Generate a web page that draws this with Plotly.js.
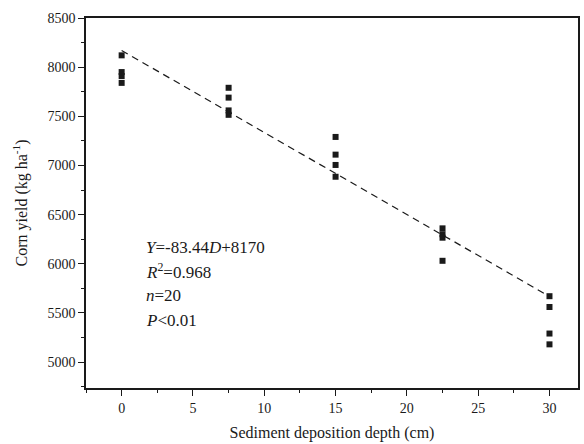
<!DOCTYPE html>
<html><head><meta charset="utf-8">
<script src="https://cdn.plot.ly/plotly-3.0.1.min.js"></script>
<style>html,body{margin:0;padding:0;background:#fff}#chart{width:584px;height:444px}</style>
</head><body><div id="chart"></div>
<script>
var depthX = [0,0,0,0, 7.5,7.5,7.5,7.5, 15,15,15,15, 22.5,22.5,22.5,22.5, 30,30,30,30];
var yieldY = [8120,7950,7910,7840, 7790,7690,7560,7515, 7290,7110,7005,6885, 6360,6300,6265,6030, 5670,5560,5290,5180];
var fitSlope = -83.44;
var fitIntercept = 8170;
var fitX = [0, 30];
var fitY = fitX.map(function(d){return fitSlope*d + fitIntercept;});
var statsLines = ["<i>Y</i>=-83.44<i>D</i>+8170", "<i>R</i><sup>2</sup>=0.968", "<i>n</i>=20", "<i>P</i>&lt;0.01"];

var font = "Liberation Serif, Times New Roman, serif";
var traces = [
  {x: depthX, y: yieldY, mode: 'markers', type: 'scatter',
   marker: {symbol: 'square', size: 6, color: '#1a1a1a'}, hoverinfo: 'none'},
  {x: fitX, y: fitY, mode: 'lines', type: 'scatter',
   line: {color: '#1a1a1a', width: 1.2, dash: '7px,5px'}, hoverinfo: 'none'}
];
var anns = statsLines.map(function(t, i){
  return {text: t, xref: 'paper', yref: 'paper', x: 0.118, y: 0.381 - i*0.066,
          xanchor: 'left', yanchor: 'middle', showarrow: false,
          font: {family: font, size: 17, color: '#1a1a1a'}};
});
var axisCommon = {
  showgrid: false, zeroline: false, showline: true, linecolor: '#1a1a1a', linewidth: 1.5,
  mirror: true, ticks: 'outside', ticklen: 6, tickwidth: 1.2, tickcolor: '#1a1a1a',
  tickfont: {family: font, size: 14, color: '#1a1a1a'}
};
var layout = {
  width: 584, height: 444,
  margin: {l: 86, r: 6, t: 18, b: 56},
  paper_bgcolor: '#fff', plot_bgcolor: '#fff',
  showlegend: false,
  xaxis: Object.assign({}, axisCommon, {
    range: [-2.5, 32], dtick: 5, tick0: 0,
    minor: {dtick: 2.5, ticks: 'outside', ticklen: 3, tickwidth: 1.2, tickcolor: '#1a1a1a'},
    title: {text: 'Sediment deposition depth (cm)', font: {family: font, size: 16, color: '#1a1a1a'}, standoff: 12}
  }),
  yaxis: Object.assign({}, axisCommon, {
    range: [4736, 8500], dtick: 500, tick0: 5000,
    minor: {dtick: 250, ticks: 'outside', ticklen: 3, tickwidth: 1.2, tickcolor: '#1a1a1a'},
    title: {text: 'Corn yield (kg ha<sup>-1</sup>)', font: {family: font, size: 16, color: '#1a1a1a'}, standoff: 16}
  }),
  annotations: anns
};
Plotly.newPlot('chart', traces, layout, {displayModeBar: false});
</script></body></html>
